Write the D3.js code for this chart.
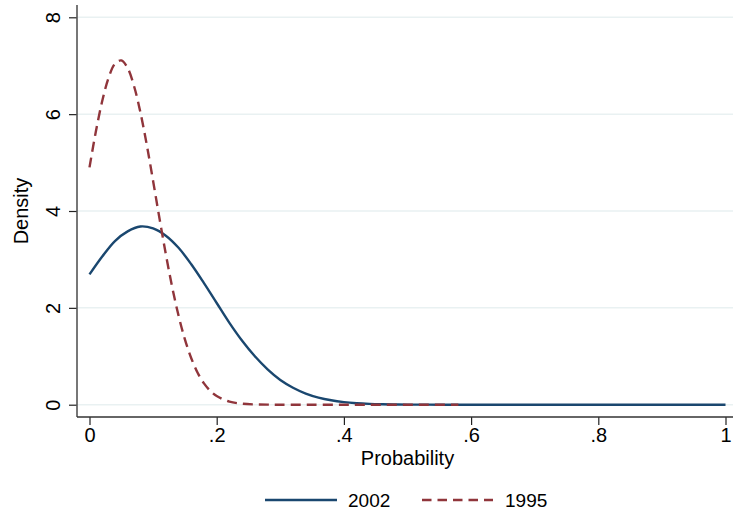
<!DOCTYPE html>
<html>
<head>
<meta charset="utf-8">
<script src="https://cdn.jsdelivr.net/npm/d3@7"></script>
<style>
html,body{margin:0;padding:0;background:#fff;}
svg text{font-family:"Liberation Sans",Arial,Helvetica,sans-serif;fill:#000;}
</style>
</head>
<body>
<svg id="chart" width="733" height="515"></svg>
<script>
// ---- data ----
const xTicks = [0, 0.2, 0.4, 0.6, 0.8, 1];
const xTickLabels = ["0", ".2", ".4", ".6", ".8", "1"];
const yTicks = [0, 2, 4, 6, 8];
const yTickLabels = ["0", "2", "4", "6", "8"];
const seriesNames = ["2002", "1995"];

const x2002 = [0,0.02,0.04,0.06,0.08,0.10,0.12,0.14,0.16,0.18,0.20,0.22,0.24,0.26,0.28,0.30,0.32,0.34,0.36,0.38,0.40,0.42,0.44,0.46,0.48,0.50,0.55,0.60,0.70,0.80,0.90,1.00];
const y2002 = [2.69,3.06,3.38,3.58,3.68,3.64,3.49,3.24,2.90,2.51,2.10,1.69,1.32,1.00,0.73,0.51,0.35,0.23,0.147,0.091,0.054,0.031,0.017,0.009,0.005,0.0024,0.0004,0,0,0,0,0];

const x1995 = [0,0.01,0.02,0.03,0.04,0.05,0.06,0.07,0.08,0.09,0.10,0.11,0.12,0.13,0.14,0.15,0.16,0.17,0.18,0.19,0.20,0.22,0.24,0.26,0.28,0.30,0.34,0.40,0.46,0.52,0.58];
const y1995 = [4.90,5.64,6.27,6.75,7.04,7.11,6.95,6.58,6.04,5.37,4.62,3.85,3.11,2.43,1.84,1.35,0.96,0.66,0.44,0.285,0.178,0.064,0.020,0.0055,0.0013,0.0003,0,0,0,0,0];

const colors = ["#1a476f", "#90353b"];

// ---- layout ----
const svg = d3.select("#chart");
const xScale = d3.scaleLinear().domain([0, 1]).range([89.5, 725.5]);
const yScale = d3.scaleLinear().domain([0, 8]).range([404.7, 17.3]);
const axisX0 = 77, axisY0 = 417, plotTop = 5, plotRight = 733;

// gridlines
svg.append("g").selectAll("line").data(yTicks).join("line")
  .attr("x1", axisX0).attr("x2", plotRight)
  .attr("y1", d => yScale(d)).attr("y2", d => yScale(d))
  .attr("stroke", "#e9f1f2").attr("stroke-width", 1.5);

// y axis
const yAxis = d3.axisLeft(yScale).tickValues(yTicks).tickSize(8).tickPadding(0)
  .tickFormat((d, i) => yTickLabels[i]);
const gy = svg.append("g").attr("transform", `translate(${axisX0},0)`).call(yAxis);
gy.select(".domain").remove();
gy.selectAll(".tick line").attr("stroke", "#222").attr("stroke-width", 1.2);
gy.selectAll(".tick text").remove();
gy.selectAll(".tick").append("text")
  .attr("transform", "translate(-17,0) rotate(-90)")
  .attr("text-anchor", "middle")
  .attr("font-size", 20)
  .text((d, i) => yTickLabels[i]);
svg.append("line").attr("x1", axisX0).attr("x2", axisX0)
  .attr("y1", plotTop).attr("y2", axisY0)
  .attr("stroke", "#555").attr("stroke-width", 1.6);

// x axis
const xAxis = d3.axisBottom(xScale).tickValues(xTicks).tickSize(8).tickPadding(0)
  .tickFormat((d, i) => xTickLabels[i]);
const gx = svg.append("g").attr("transform", `translate(0,${axisY0})`).call(xAxis);
gx.select(".domain").remove();
gx.selectAll(".tick line").attr("stroke", "#222").attr("stroke-width", 1.2);
gx.selectAll(".tick text").attr("font-size", 20).attr("dy", null).attr("y", 25)
  .attr("font-family", "Liberation Sans, Arial, sans-serif").attr("fill", "#000");
svg.append("line").attr("x1", axisX0).attr("x2", plotRight)
  .attr("y1", axisY0).attr("y2", axisY0)
  .attr("stroke", "#333").attr("stroke-width", 1.6);

// axis titles
svg.append("text").attr("x", 407.5).attr("y", 465).attr("text-anchor", "middle")
  .attr("font-size", 20).text("Probability");
svg.append("text").attr("transform", "translate(28,211) rotate(-90)")
  .attr("text-anchor", "middle").attr("font-size", 20).text("Density");

// lines
const line = d3.line().x(d => xScale(d[0])).y(d => yScale(Math.max(0, d[1])))
  .curve(d3.curveCatmullRom.alpha(0.5));
const d2002 = x2002.map((v, i) => [v, y2002[i]]);
const d1995 = x1995.map((v, i) => [v, y1995[i]]);

svg.append("path").datum(d2002).attr("d", line)
  .attr("fill", "none").attr("stroke", colors[0]).attr("stroke-width", 2.4);
svg.append("path").datum(d1995).attr("d", line)
  .attr("fill", "none").attr("stroke", colors[1]).attr("stroke-width", 2.4)
  .attr("stroke-dasharray", "10,6");

// legend
const legend = svg.append("g");
legend.append("line").attr("x1", 265).attr("x2", 337).attr("y1", 500).attr("y2", 500)
  .attr("stroke", colors[0]).attr("stroke-width", 2.4);
legend.append("text").attr("x", 348).attr("y", 507).attr("font-size", 19).text(seriesNames[0]);
legend.append("line").attr("x1", 422).attr("x2", 493).attr("y1", 500).attr("y2", 500)
  .attr("stroke", colors[1]).attr("stroke-width", 2.4).attr("stroke-dasharray", "9.5,6");
legend.append("text").attr("x", 505).attr("y", 507).attr("font-size", 19).text(seriesNames[1]);
</script>
</body>
</html>
